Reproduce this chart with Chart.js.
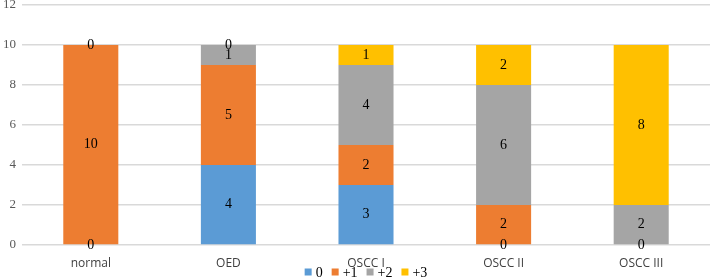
<!DOCTYPE html>
<html>
<head>
<meta charset="utf-8">
<script src="https://cdn.jsdelivr.net/npm/chart.js@4/dist/chart.umd.min.js"></script>
<style>
  html, body { margin: 0; padding: 0; background: #fff; }
  #wrap { width: 710px; height: 279px; }
</style>
</head>
<body>
<div id="wrap"><canvas id="bar-chart"></canvas></div>
<script>
const categories = ['normal', 'OED', 'OSCC I', 'OSCC II', 'OSCC III'];
const seriesNames = ['0', '+1', '+2', '+3'];
const score0 = [0, 4, 3, 0, 0];
const score1 = [10, 5, 2, 2, 0];
const score2 = [0, 1, 4, 6, 2];
const score3 = [0, 0, 1, 2, 8];
const colors = ['#5B9BD5', '#ED7D31', '#A5A5A5', '#FFC000'];
const yTicks = [0, 2, 4, 6, 8, 10, 12];

const serif = '"Liberation Serif", serif';

// values written in the middle of each segment, like Excel data labels
const valueLabels = {
    id: 'valueLabels',
    afterDatasetsDraw(chart) {
        const ctx = chart.ctx;
        const done = {};
        ctx.save();
        ctx.font = '14px ' + serif;
        ctx.fillStyle = '#000';
        ctx.textAlign = 'center';
        ctx.textBaseline = 'middle';
        chart.data.datasets.forEach((ds, i) => {
            chart.getDatasetMeta(i).data.forEach((bar, j) => {
                const mid = (bar.y + bar.base) / 2;
                const key = Math.round(bar.x) + ':' + Math.round(mid) + ':' + ds.data[j];
                if (done[key]) return;
                done[key] = true;
                ctx.fillText(String(ds.data[j]), bar.x, mid);
            });
        });
        ctx.restore();
    }
};

// compact legend under the category labels
const smallLegend = {
    id: 'smallLegend',
    afterDraw(chart) {
        const ctx = chart.ctx;
        const box = 7, gap = 4, spacing = 9;
        const y = chart.height - 7;
        ctx.save();
        ctx.font = '14px ' + serif;
        ctx.textBaseline = 'middle';
        ctx.textAlign = 'left';
        const items = chart.data.datasets.map(ds => ({
            text: ds.label,
            color: ds.backgroundColor,
            w: box + gap + ctx.measureText(ds.label).width
        }));
        const total = items.reduce((s, it) => s + it.w, 0) + spacing * (items.length - 1);
        let x = (chart.chartArea.left + chart.chartArea.right) / 2 - total / 2;
        items.forEach(it => {
            ctx.fillStyle = it.color;
            ctx.fillRect(x, y - box / 2, box, box);
            ctx.fillStyle = '#000';
            ctx.fillText(it.text, x + box + gap, y + 1);
            x += it.w + spacing;
        });
        ctx.restore();
    }
};

const allScores = [score0, score1, score2, score3];

new Chart('bar-chart', {
    type: 'bar',
    data: {
        labels: categories,
        datasets: seriesNames.map((name, i) => ({
            label: name,
            data: allScores[i],
            backgroundColor: colors[i],
            categoryPercentage: 1,
            barPercentage: 0.4
        }))
    },
    options: {
        responsive: true,
        maintainAspectRatio: false,
        animation: false,
        layout: { padding: { top: 5, left: 0, right: 0, bottom: 4 } },
        plugins: {
            legend: { display: false },
            tooltip: { enabled: false }
        },
        scales: {
            x: {
                stacked: true,
                grid: { display: false, drawTicks: false },
                border: { display: false },
                afterFit: (s) => { s.height = 30; },
                ticks: {
                    color: '#404040',
                    padding: 11,
                    font: { family: '"Open Sans", sans-serif', size: 12 }
                }
            },
            y: {
                stacked: true,
                min: 0,
                max: 12,
                afterBuildTicks: (axis) => { axis.ticks = yTicks.map(v => ({ value: v })); },
                grid: { color: '#D9D9D9', lineWidth: 1.5, drawTicks: false },
                border: { display: false },
                afterFit: (s) => { s.width = 22; s.paddingTop = 0; s.paddingBottom = 0; },
                ticks: {
                    color: '#595959',
                    padding: 6,
                    font: { family: serif, size: 13 }
                }
            }
        }
    },
    plugins: [valueLabels, smallLegend]
});
</script>
</body>
</html>
